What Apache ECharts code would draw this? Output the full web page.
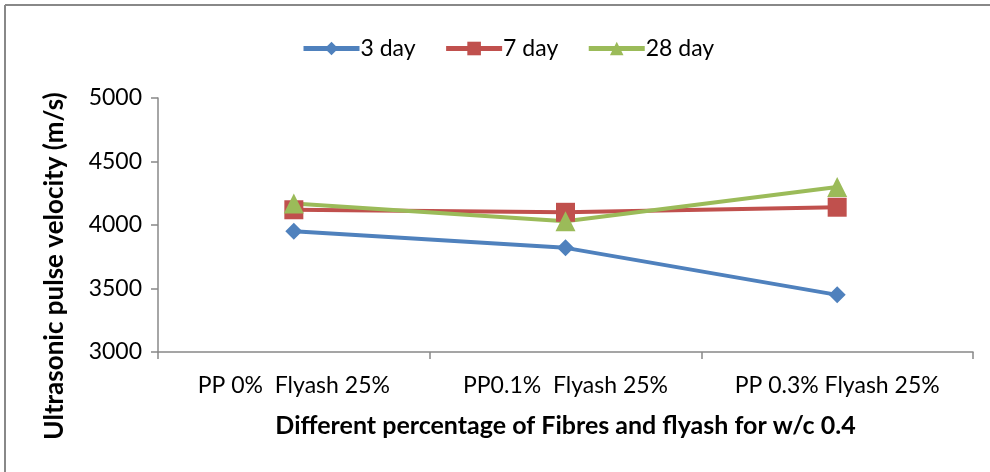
<!DOCTYPE html>
<html>
<head>
<meta charset="utf-8">
<script src="https://cdn.jsdelivr.net/npm/echarts@6/dist/echarts.min.js"></script>
<style>
  html, body { margin: 0; padding: 0; background: #fff; }
  #chart { width: 990px; height: 472px; }
</style>
</head>
<body>
<div id="chart"></div>
<script>
// Mix designs along the x axis
const categories = ['PP 0%  Flyash 25%', 'PP0.1%  Flyash 25%', 'PP 0.3% Flyash 25%'];
// Ultrasonic pulse velocity (m/s) at each curing age
const day3 = [3950, 3820, 3450];
const day7 = [4120, 4100, 4140];
const day28 = [4170, 4030, 4300];
const yTicks = { min: 3000, max: 5000, interval: 500 };
const yTitle = 'Ultrasonic pulse velocity (m/s)';
const xTitle = 'Different percentage of Fibres and flyash for w/c 0.4';

const FONT = 'Lato, "Open Sans", sans-serif';

const chart = echarts.init(document.getElementById('chart'));

function lineSeries(name, data, color, symbol, size) {
  return {
    name: name,
    type: 'line',
    data: data,
    symbol: symbol,
    symbolSize: size,
    itemStyle: { color: color },
    lineStyle: { color: color, width: 4 },
    emphasis: { disabled: true },
    animation: false
  };
}

chart.setOption({
  backgroundColor: '#fff',
  animation: false,
  legend: {
    top: 32,
    left: 296,
    itemGap: 28,
    itemWidth: 56,
    itemHeight: 17,
    lineStyle: { width: 5 },
    textStyle: { fontFamily: FONT, fontSize: 23, color: '#000', padding: [0, 0, 0, -4] },
    data: ['3 day', '7 day', '28 day']
  },
  grid: { left: 158, right: 17, top: 98, bottom: 120, containLabel: false },
  xAxis: {
    type: 'category',
    data: categories,
    boundaryGap: true,
    name: xTitle,
    nameLocation: 'middle',
    nameGap: 61,
    nameTextStyle: { fontFamily: FONT, fontSize: 25, fontWeight: 'bold', color: '#000' },
    axisLine: { lineStyle: { color: '#888', width: 1.5 } },
    axisTick: { show: true, length: 7, alignWithLabel: false, lineStyle: { color: '#888', width: 1.5 } },
    axisLabel: { fontFamily: FONT, fontSize: 23, color: '#000', margin: 22 },
    splitLine: { show: false }
  },
  yAxis: {
    type: 'value',
    min: yTicks.min,
    max: yTicks.max,
    interval: yTicks.interval,
    axisLine: { show: true, lineStyle: { color: '#888', width: 1.5 } },
    axisTick: { show: true, inside: false, length: 7, lineStyle: { color: '#888', width: 1.5 } },
    axisLabel: { fontFamily: FONT, fontSize: 23, color: '#000', margin: 16, formatter: v => String(v) },
    splitLine: { show: false }
  },
  series: [
    lineSeries('3 day', day3, '#4F81BD', 'diamond', 17),
    lineSeries('7 day', day7, '#C0504D', 'rect', 19),
    lineSeries('28 day', day28, '#9BBB59', 'triangle', 20)
  ],
  graphic: [
    { type: 'line', shape: { x1: 5, y1: 5, x2: 990, y2: 5 }, style: { stroke: '#888', lineWidth: 2 } },
    { type: 'line', shape: { x1: 5, y1: 5, x2: 5, y2: 472 }, style: { stroke: '#888', lineWidth: 2 } },
    {
      // vertical axis title, reading bottom to top
      type: 'text',
      x: 55,
      y: 266,
      rotation: Math.PI / 2,
      style: {
        text: yTitle,
        x: 0, y: 0,
        align: 'center',
        verticalAlign: 'middle',
        fontFamily: FONT,
        fontSize: 26,
        fontWeight: 'bold',
        fill: '#000'
      }
    }
  ]
});
</script>
</body>
</html>
